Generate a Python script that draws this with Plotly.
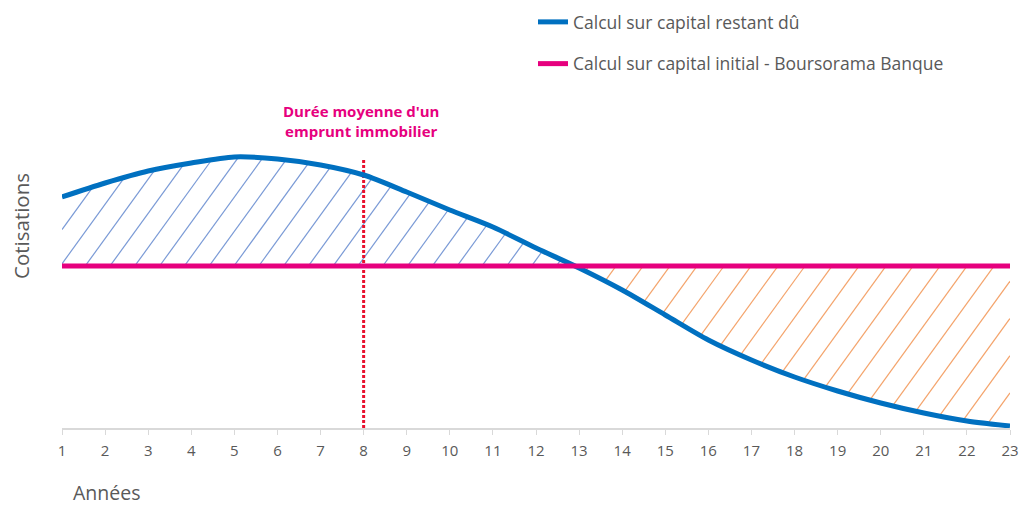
import numpy as np
import plotly.graph_objects as go

# ---- data (arbitrary units) ----
annees = list(range(1, 24))
restant_du = [231, 245, 257, 265, 271, 269, 263, 253, 236, 218, 201, 180, 160,
              138, 113, 88, 68, 51, 37, 25, 15, 7, 2]
capital_initial = [162] * 23
duree_moyenne = 8
tick_labels = [str(a) for a in annees]

serie_restant = "Calcul sur capital restant dû"
serie_initial = "Calcul sur capital initial - Boursorama Banque"
note_duree = "Durée moyenne d'un<br>emprunt immobilier"

# ---- layout geometry (screen pixels) ----
W, H = 1022, 506
PL, PR, PT, PB = 62, 1010, 100, 428        # plot area on screen
ML, MT, MR, MB = PL, PT, W - PR, H - PB
PW, PH = PR - PL, PB - PT
YMAX = 328
kx = PW / (annees[-1] - annees[0])     # px per x unit
ky = PH / YMAX                          # px per y unit


def px2paper(px, py):
    return (px - PL) / PW, (PB - py) / PH


# ---- hatch construction (between the two series) ----
xf = np.linspace(annees[0], annees[-1], 8801)
bf = np.interp(xf, annees, restant_du)
pf = np.interp(xf, annees, capital_initial)
diff = bf - pf
cross = xf[np.argmax(diff < 0)]
pink = capital_initial[0]
slope_px = 1.38
m = slope_px * kx / ky                 # data slope


def hatch(spacing_px, phase_px, upper):
    xs, ys = [], []
    dx = spacing_px / kx
    x0 = annees[0] + phase_px / kx
    k_min = int(np.floor((annees[0] - 6 - x0) / dx))
    k_max = int(np.ceil((annees[-1] + 6 - x0) / dx))
    for k in range(k_min, k_max + 1):
        xa = x0 + k * dx
        line = pink + (xf - xa) * m
        if upper:
            mask = (xf >= max(xa, annees[0])) & (xf <= cross) & (line >= pink) & (line <= bf)
        else:
            mask = (xf <= min(xa, annees[-1])) & (xf >= cross) & (line <= pink) & (line >= bf)
        idx = np.where(mask)[0]
        if len(idx) < 2:
            continue
        if upper:
            run = [idx[0]]
            for i in idx[1:]:
                if i == run[-1] + 1:
                    run.append(i)
                else:
                    break
        else:
            run = [idx[-1]]
            for i in idx[::-1][1:]:
                if i == run[-1] - 1:
                    run.append(i)
                else:
                    break
        a, b = min(run), max(run)
        xs += [xf[a], xf[b], None]
        ys += [line[a], line[b], None]
    return xs, ys


hbx, hby = hatch(24.8, 48, True)
hox, hoy = hatch(27.0, 581, False)

fig = go.Figure()
fig.add_trace(go.Scatter(x=hbx, y=hby, mode="lines", line=dict(color="#7a9ad6", width=1.2),
                         showlegend=False, hoverinfo="skip"))
fig.add_trace(go.Scatter(x=hox, y=hoy, mode="lines", line=dict(color="#f4a46c", width=1.2),
                         showlegend=False, hoverinfo="skip"))
fig.add_trace(go.Scatter(x=[duree_moyenne, duree_moyenne], y=[0, 270], mode="lines",
                         line=dict(color="#e8112d", width=3, dash="3px,2px"),
                         showlegend=False, hoverinfo="skip"))
fig.add_trace(go.Scatter(x=annees, y=restant_du, mode="lines", name=serie_restant,
                         line=dict(color="#0070c0", width=5, shape="spline", smoothing=0.8),
                         legendgroup="a"))
fig.add_trace(go.Scatter(x=annees, y=capital_initial, mode="lines", name=serie_initial,
                         line=dict(color="#e6007e", width=5), legendgroup="b"))

nx, ny = px2paper(361, 121)
fig.add_annotation(x=nx, y=ny, xref="paper", yref="paper", text=note_duree, showarrow=False,
                   xanchor="center", yanchor="middle",
                   font=dict(family="Open Sans", size=15, color="#e6007e", weight="bold"),
                   align="center")
cx, cy = px2paper(21, 226)
fig.add_annotation(x=cx, y=cy, xref="paper", yref="paper", text="Cotisations",
                   showarrow=False, textangle=-90, xanchor="center", yanchor="middle",
                   font=dict(family="Open Sans", size=20.5, color="#595959"))
ax_, ay_ = px2paper(106, 492)
fig.add_annotation(x=ax_, y=ay_, xref="paper", yref="paper", text="Années",
                   showarrow=False, xanchor="center", yanchor="middle",
                   font=dict(family="Open Sans", size=19.5, color="#595959"))

lx, ly = px2paper(533, 4)
fig.update_layout(
    width=W, height=H,
    margin=dict(l=ML, r=MR, t=MT, b=MB, autoexpand=False),
    paper_bgcolor="white", plot_bgcolor="white",
    font=dict(family="Open Sans", color="#595959"),
    legend=dict(x=lx, y=ly, xanchor="left", yanchor="top",
                font=dict(size=17.5, color="#595959"),
                tracegroupgap=16, bgcolor="rgba(0,0,0,0)"),
    xaxis=dict(range=[annees[0], annees[-1]], tickmode="array", tickvals=annees,
               ticktext=tick_labels, showgrid=False, zeroline=False, showline=True,
               linecolor="#d9d9d9", linewidth=1.5, ticks="outside", ticklen=5,
               tickcolor="#d9d9d9", ticklabelstandoff=3,
               tickfont=dict(size=15, color="#595959")),
    yaxis=dict(range=[0, YMAX], visible=False),
)

fig.write_html("out.html", config={"displayModeBar": False},
               post_script="document.body.style.margin='0';")
